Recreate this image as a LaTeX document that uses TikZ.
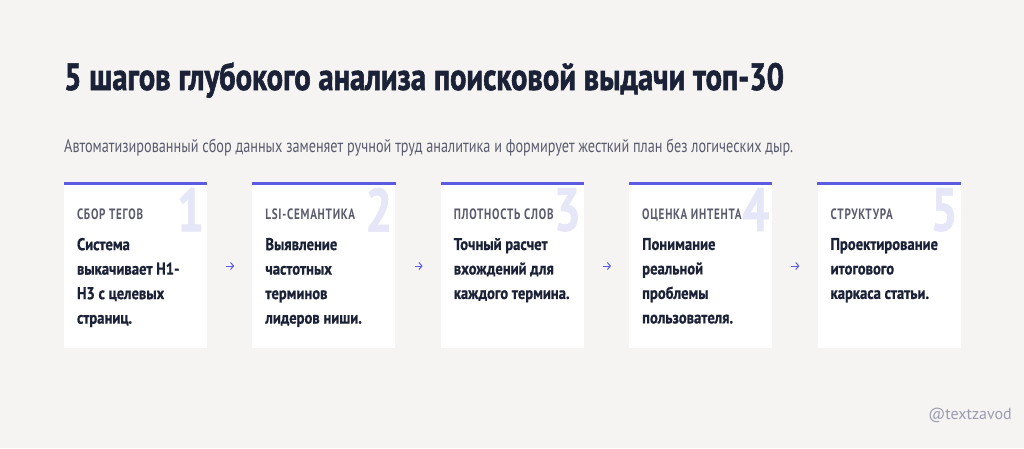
\documentclass[tikz,border=0pt]{standalone}
\usepackage{fontspec}
\setmainfont[FakeStretch=0.77]{PT Sans}
\newfontfamily\headfont[FakeStretch=0.805,FakeBold=1.5]{PT Sans Bold}
\newfontfamily\bodyfont[FakeStretch=0.86,FakeBold=0.8]{PT Sans Bold}
\newfontfamily\tagfont[FakeStretch=0.74,LetterSpace=5]{PT Sans Bold}
\newfontfamily\numfont[FakeStretch=0.78,FakeBold=1]{PT Sans Bold}
\newfontfamily\handlefont{PT Sans}
\usepackage{tikz}
\usetikzlibrary{positioning,arrows.meta,calc}

\definecolor{bgcol}{HTML}{F5F4F2}
\definecolor{navy}{HTML}{1B2237}
\definecolor{graytxt}{HTML}{5A5C6D}
\definecolor{violet}{HTML}{5B5BE2}
\definecolor{lavender}{HTML}{E6E6F9}
\definecolor{handlecol}{HTML}{9A9BB0}

\tikzset{
  card/.style={fill=white, minimum width=143pt, minimum height=164pt, inner sep=0pt},
  topbar/.style={violet, line width=3pt},
  steplabel/.style={anchor=base west, inner sep=0pt, graytxt, font=\tagfont\fontsize{15}{15}\selectfont},
  stepbody/.style={anchor=north west, inner sep=0pt, navy, align=left,
    font=\bodyfont\fontsize{17}{24.5}\selectfont},
  stepnum/.style={anchor=north east, inner sep=0pt, lavender, font=\numfont\fontsize{61}{61}\selectfont},
  flow/.style={-{Straight Barb[length=3pt,width=7pt]}, violet, line width=1pt, shorten <=19pt, shorten >=18pt}
}

\begin{document}
\begin{tikzpicture}[x=1pt,y=-1pt]
  \fill[bgcol] (0,0) rectangle (1024,448);

  \node[anchor=base west, inner sep=0pt, navy, font=\headfont\fontsize{38}{40}\selectfont] (title) at (64,90)
    {5 шагов глубокого анализа поисковой выдачи топ-30};
  \node[anchor=base west, inner sep=0pt, graytxt, font=\fontsize{18.5}{20}\selectfont] (subtitle) at (64,152)
    {Автоматизированный сбор данных заменяет ручной труд аналитика и формирует жесткий план без логических дыр.};

  % cards
  \node[card] (card1) at (135.5,266) {};
  \node[card, right=45pt of card1] (card2) {};
  \node[card, right=45pt of card2] (card3) {};
  \node[card, right=45pt of card3] (card4) {};
  \node[card, right=45pt of card4] (card5) {};

  \draw[topbar] (card1.north west) -- (card1.north east);
  \draw[topbar] (card2.north west) -- (card2.north east);
  \draw[topbar] (card3.north west) -- (card3.north east);
  \draw[topbar] (card4.north west) -- (card4.north east);
  \draw[topbar] (card5.north west) -- (card5.north east);

  \node[stepnum] (num1) at ([shift={(-3,4)}]card1.north east) {1};
  \node[stepnum] (num2) at ([shift={(-3,4)}]card2.north east) {2};
  \node[stepnum] (num3) at ([shift={(-3,4)}]card3.north east) {3};
  \node[stepnum] (num4) at ([shift={(-3,4)}]card4.north east) {4};
  \node[stepnum] (num5) at ([shift={(-3,4)}]card5.north east) {5};

  \node[steplabel] (tag1) at ([shift={(13,36)}]card1.north west) {СБОР ТЕГОВ};
  \node[steplabel] (tag2) at ([shift={(13,36)}]card2.north west) {LSI-СЕМАНТИКА};
  \node[steplabel] (tag3) at ([shift={(13,36)}]card3.north west) {ПЛОТНОСТЬ СЛОВ};
  \node[steplabel] (tag4) at ([shift={(13,36)}]card4.north west) {ОЦЕНКА ИНТЕНТА};
  \node[steplabel] (tag5) at ([shift={(13,36)}]card5.north west) {СТРУКТУРА};

  \node[stepbody] (text1) at ([shift={(13,54)}]card1.north west) {Система\\выкачивает Н1-\\Н3 с целевых\\страниц.};
  \node[stepbody] (text2) at ([shift={(13,54)}]card2.north west) {Выявление\\частотных\\терминов\\лидеров ниши.};
  \node[stepbody] (text3) at ([shift={(13,54)}]card3.north west) {Точный расчет\\вхождений для\\каждого термина.};
  \node[stepbody] (text4) at ([shift={(13,54)}]card4.north west) {Понимание\\реальной\\проблемы\\пользователя.};
  \node[stepbody] (text5) at ([shift={(13,54)}]card5.north west) {Проектирование\\итогового\\каркаса статьи.};

  \draw[flow] (card1) -- (card2);
  \draw[flow] (card2) -- (card3);
  \draw[flow] (card3) -- (card4);
  \draw[flow] (card4) -- (card5);

  \node[anchor=base east, inner sep=0pt, handlecol, font=\handlefont\fontsize{16}{16}\selectfont] (handle) at (1012,419) {@textzavod};
\end{tikzpicture}
\end{document}
